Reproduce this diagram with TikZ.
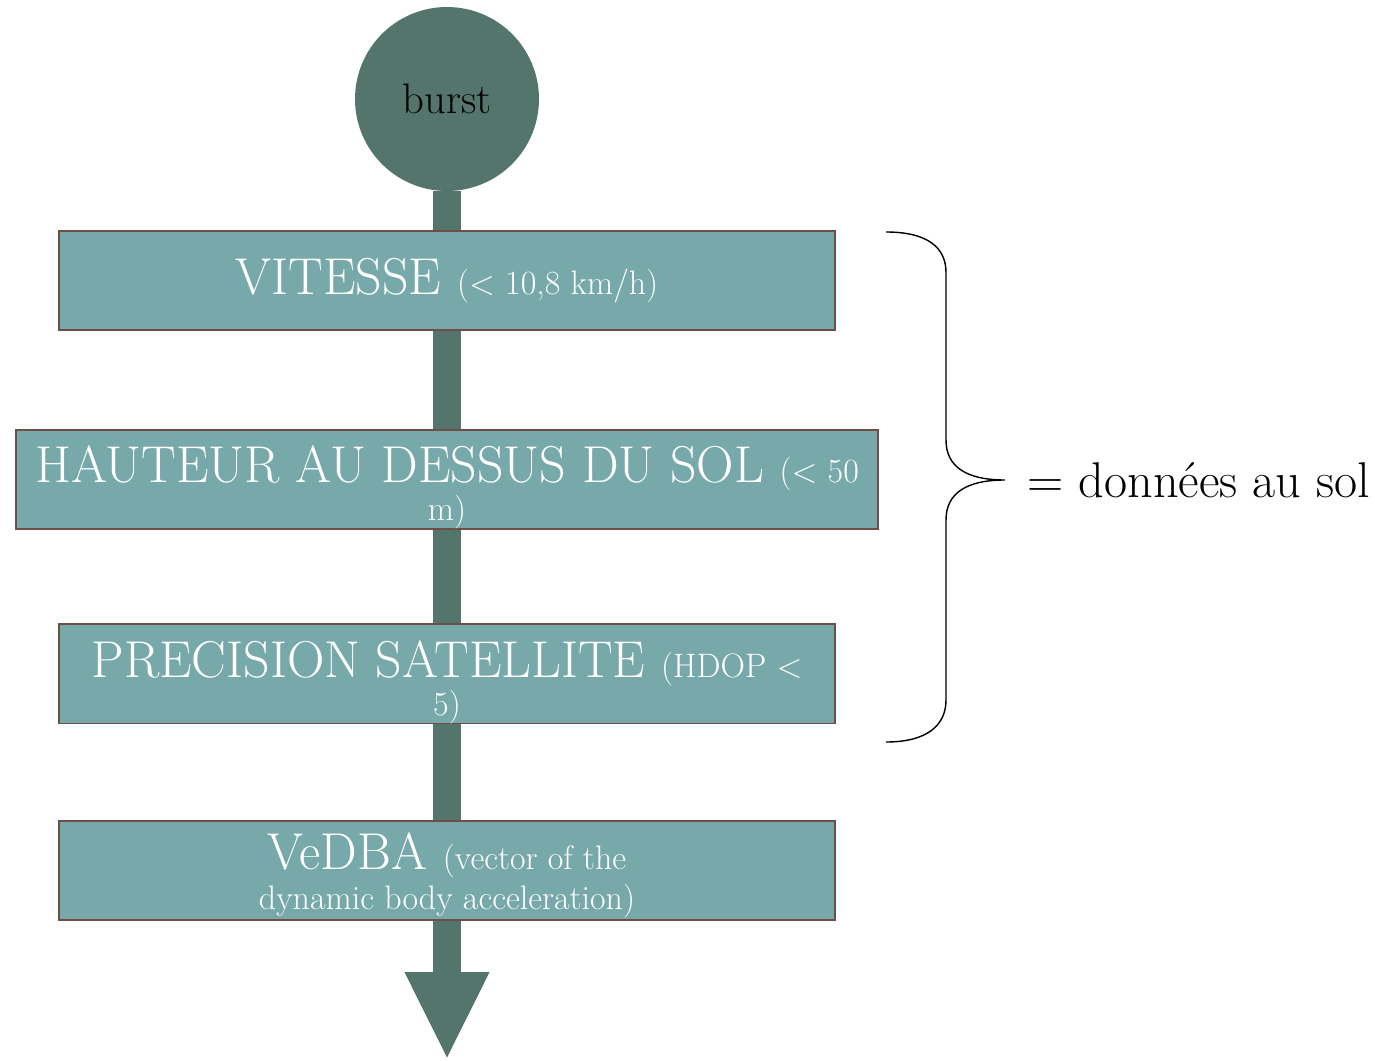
\documentclass[tikz,border=0pt]{standalone}
\usepackage{amsmath}
\usepackage{tikz}
\usepackage{xcolor}
\usetikzlibrary{positioning,arrows.meta,backgrounds}
\definecolor{stemgreen}{HTML}{54756C}
\definecolor{boxteal}{HTML}{77A8AA}
\definecolor{boxbrown}{HTML}{6E4F47}
\newcommand{\petit}{\fontsize{19.3}{21.6}\selectfont}
\begin{document}
\begin{tikzpicture}[
  critbox/.style={draw=boxbrown,line width=1.1pt,fill=boxteal,text=white,
    minimum width=15.52cm,minimum height=1.98cm,inner sep=0pt,align=center,
    font=\fontsize{29.5}{21.6}\selectfont}]
\useasboundingbox (0,0) rectangle (27.5,-21.22);
\node[circle,fill=stemgreen,minimum size=3.68cm,inner sep=0pt,
  font=\fontsize{24.3}{28}\selectfont] (burst) at (8.94,-1.98) {burst};
\node[critbox,below=0.78cm of burst] (vitesse)
  {VITESSE {\petit (< 10,8 km/h)}};
\node[critbox,minimum width=17.24cm,below=1.96cm of vitesse] (hauteur)
  {\rule{0pt}{30pt}HAUTEUR AU DESSUS DU SOL {\petit (< 50}\\
   {\petit m)}};
\node[critbox,below=1.86cm of hauteur] (precision)
  {\rule{0pt}{30pt}PRECISION SATELLITE {\petit (HDOP <}\\
   {\petit 5)}};
\node[critbox,below=1.92cm of precision] (vedba)
  {\rule{0pt}{26pt}VeDBA {\petit (vector of the}\\[1pt]
   {\petit dynamic body acceleration)}};
\coordinate (fin) at (8.94,-21.2);
\begin{scope}[on background layer]
\draw[stemgreen,line width=0.56cm,-{Triangle[width=1.56cm,length=1.76cm]}] (burst) -- (fin);
\end{scope}
% accolade
\coordinate (pointe) at (20.1,-9.6);
\draw[line width=0.8pt] (17.72,-4.64) .. controls (18.55,-4.64) and (18.92,-4.95) .. (18.92,-5.45)
  -- (18.92,-8.8) .. controls (18.92,-9.35) and (19.35,-9.6) .. (pointe)
  .. controls (19.35,-9.6) and (18.92,-9.85) .. (18.92,-10.4)
  -- (18.92,-14.0) .. controls (18.92,-14.5) and (18.55,-14.84) .. (17.72,-14.84);
\node[anchor=west,inner sep=0pt,font=\fontsize{28.6}{32}\selectfont,xshift=0.44cm] (sol) at (pointe)
  {= données au sol};
\end{tikzpicture}
\end{document}
